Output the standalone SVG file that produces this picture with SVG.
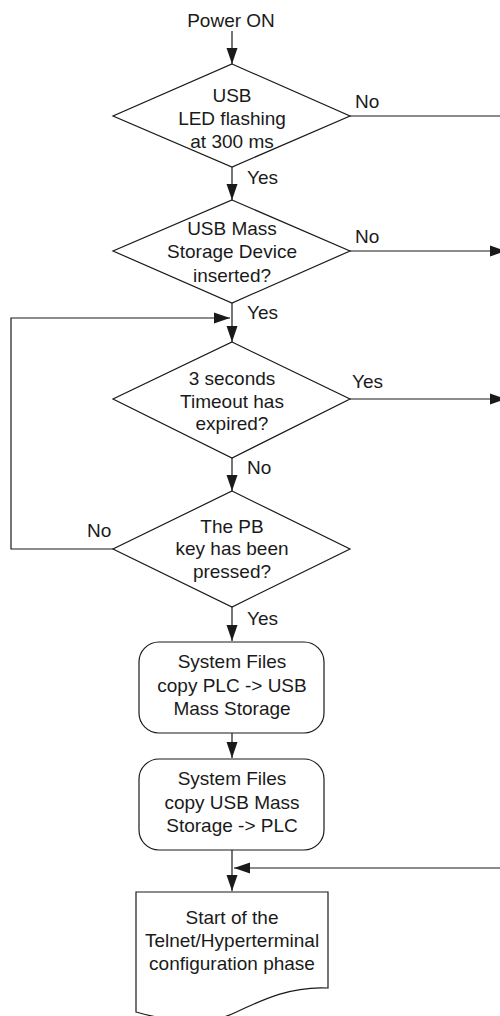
<svg xmlns="http://www.w3.org/2000/svg" width="500" height="1016" viewBox="0 0 500 1016">
<style>
text{font-family:"Liberation Sans",Arial,sans-serif;font-size:19px;fill:#1a1a1a}
.c{text-anchor:middle}
.s{fill:#fff;stroke:#1a1a1a;stroke-width:1.2}
.l{fill:none;stroke:#1a1a1a;stroke-width:1.2}
.a{marker-end:url(#ah)}
</style>
<defs>
<marker id="ah" markerUnits="userSpaceOnUse" markerWidth="16" markerHeight="12" refX="16" refY="6" orient="auto"><path d="M0,0.5 L16,6 L0,11.5 z" fill="#1a1a1a"/></marker>
</defs>
<rect width="500" height="1016" fill="#fff"/>
<g id="connectors">
<path class="l a" d="M232,31 V64"/>
<path class="l a" d="M232,167 V200"/>
<path class="l a" d="M232,303 V342"/>
<path class="l a" d="M232,458 V491"/>
<path class="l a" d="M232,607 V641"/>
<path class="l a" d="M232,733 V758"/>
<path class="l a" d="M232,850 V891"/>
<path class="l" d="M350,116 H500"/>
<path class="l a" d="M350,251 H506"/>
<path class="l a" d="M350,399 H506"/>
<path class="l a" d="M113,549 H11 V318 H230"/>
<path class="l a" d="M500,868 H234"/>
<text x="355" y="108">No</text>
<text x="247" y="184">Yes</text>
<text x="355" y="243">No</text>
<text x="247" y="319">Yes</text>
<text x="352" y="388">Yes</text>
<text x="247" y="474">No</text>
<text x="87" y="537">No</text>
<text x="247" y="625">Yes</text>
</g>
<g id="start"><text class="c" x="231" y="27">Power ON</text></g>
<g id="d1"><polygon class="s" points="232,64 350,116 232,167 113,116"/>
<text class="c" x="232" y="102">USB</text><text class="c" x="232" y="125">LED flashing</text><text class="c" x="232" y="148">at 300 ms</text></g>
<g id="d2"><polygon class="s" points="232,200 350,251 232,303 113,251"/>
<text class="c" x="232" y="235">USB Mass</text><text class="c" x="232" y="258">Storage Device</text><text class="c" x="232" y="282">inserted?</text></g>
<g id="d3"><polygon class="s" points="232,342 350,399 232,458 113,399"/>
<text class="c" x="232" y="385">3 seconds</text><text class="c" x="232" y="408">Timeout has</text><text class="c" x="232" y="430">expired?</text></g>
<g id="d4"><polygon class="s" points="232,491 350,549 232,607 113,549"/>
<text class="c" x="232" y="533">The PB</text><text class="c" x="232" y="555">key has been</text><text class="c" x="232" y="578">pressed?</text></g>
<g id="b1"><rect class="s" x="139" y="642" width="185" height="91" rx="20"/>
<text class="c" x="232" y="668">System Files</text><text class="c" x="232" y="692">copy PLC -&gt; USB</text><text class="c" x="232" y="715">Mass Storage</text></g>
<g id="b2"><rect class="s" x="139" y="759" width="185" height="91" rx="20"/>
<text class="c" x="232" y="785">System Files</text><text class="c" x="232" y="809">copy USB Mass</text><text class="c" x="232" y="832">Storage -&gt; PLC</text></g>
<g id="doc"><path class="s" d="M136,892 H328 V988 C290,986 262,1000 232,1014 C210,1024 170,1022 136,1012 Z"/>
<text class="c" x="232" y="924">Start of the</text><text class="c" x="232" y="947">Telnet/Hyperterminal</text><text class="c" x="232" y="970">configuration phase</text></g>
</svg>
